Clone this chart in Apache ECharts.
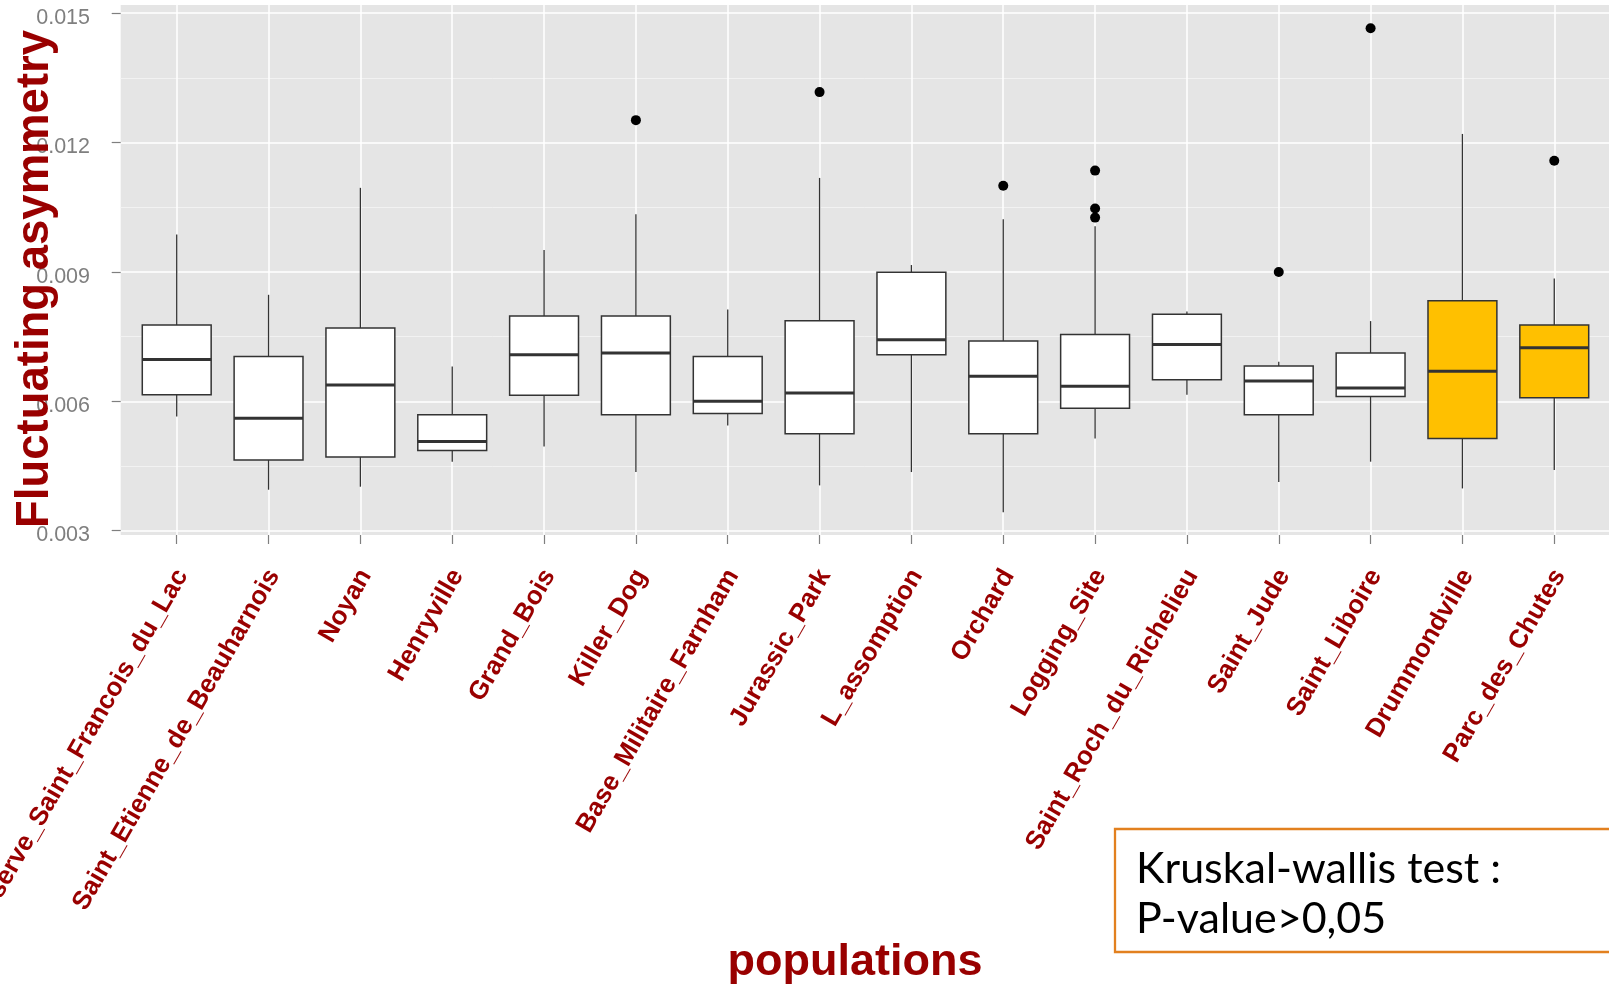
<!DOCTYPE html>
<html>
<head>
<meta charset="utf-8">
<script src="https://cdn.jsdelivr.net/npm/echarts@6/dist/echarts.min.js"></script>
<style>
  html, body { margin: 0; padding: 0; background: #ffffff; }
  #chart { width: 1609px; height: 985px; }
</style>
</head>
<body>
<div id="chart"></div>
<script>
// Populations sampled, in plotting order
const categories = [
  'Reserve_Saint_Francois_du_Lac', 'Saint_Etienne_de_Beauharnois', 'Noyan', 'Henryville',
  'Grand_Bois', 'Killer_Dog', 'Base_Militaire_Farnham', 'Jurassic_Park', 'L_assomption',
  'Orchard', 'Logging_Site', 'Saint_Roch_du_Richelieu', 'Saint_Jude', 'Saint_Liboire',
  'Drummondville', 'Parc_des_Chutes'
];

// Box-and-whisker summaries of fluctuating asymmetry per population
const whiskerLow  = [0.00565, 0.00395, 0.00402, 0.00460, 0.00495, 0.00436, 0.00544, 0.00405, 0.00436, 0.00343, 0.00514, 0.00615, 0.00413, 0.00460, 0.00398, 0.00441];
const q1          = [0.00615, 0.00464, 0.00471, 0.00486, 0.00614, 0.00569, 0.00572, 0.00525, 0.00708, 0.00525, 0.00584, 0.00650, 0.00569, 0.00611, 0.00514, 0.00608];
const median      = [0.00697, 0.00561, 0.00638, 0.00507, 0.00708, 0.00712, 0.00600, 0.00619, 0.00743, 0.00658, 0.00635, 0.00732, 0.00647, 0.00631, 0.00670, 0.00724];
const q3          = [0.00777, 0.00704, 0.00770, 0.00569, 0.00798, 0.00798, 0.00704, 0.00787, 0.00899, 0.00740, 0.00755, 0.00802, 0.00682, 0.00712, 0.00833, 0.00777];
const whiskerHigh = [0.00987, 0.00847, 0.01095, 0.00681, 0.00951, 0.01034, 0.00813, 0.01118, 0.00916, 0.01022, 0.01006, 0.00808, 0.00692, 0.00786, 0.01220, 0.00885];

// Points beyond the whiskers: [population, value]
const outliers = [
  ['Killer_Dog', 0.01252],
  ['Jurassic_Park', 0.01317],
  ['Orchard', 0.01100],
  ['Logging_Site', 0.01135],
  ['Logging_Site', 0.01047],
  ['Logging_Site', 0.01026],
  ['Saint_Jude', 0.00900],
  ['Saint_Liboire', 0.01465],
  ['Parc_des_Chutes', 0.01158]
];

// Populations drawn with a coloured box
const highlighted = ['Drummondville', 'Parc_des_Chutes'];

// Axis ticks
const majorTicks = [0.003, 0.006, 0.009, 0.012, 0.015];
const minorTicks = [0.0045, 0.0075, 0.0105, 0.0135];

const yTitle = 'Fluctuating asymmetry';
const xTitle = 'populations';
const noteLines = ['Kruskal-wallis test :', 'P-value>0,05'];

// ---- styling ----
const DARK_RED = '#990000';
const GREY_TEXT = '#7F7F7F';
const EDGE = '#333333';
const HIGHLIGHT_FILL = '#FFC000';
const BOX_WIDTH = 0.75;
const SANS = '"Liberation Sans", Arial, Helvetica, sans-serif';
const NOTE_FONT = '43px Lato, "Noto Sans", sans-serif';

const catIndex = categories.map((_, i) => i);
const boxData = categories.map((_, i) => [i, whiskerLow[i], q1[i], median[i], q3[i], whiskerHigh[i]]);
const outlierData = outliers.map(([name, v]) => [categories.indexOf(name), v]);

function renderBox(params, api) {
  const i = api.value(0);
  const pLo = api.coord([i, api.value(1)]);
  const pQ1 = api.coord([i, api.value(2)]);
  const pMed = api.coord([i, api.value(3)]);
  const pQ3 = api.coord([i, api.value(4)]);
  const pHi = api.coord([i, api.value(5)]);
  const half = api.size([BOX_WIDTH, 0])[0] / 2;
  const x = pMed[0];
  const fill = highlighted.indexOf(categories[i]) >= 0 ? HIGHLIGHT_FILL : '#FFFFFF';
  return {
    type: 'group',
    children: [
      { type: 'line', shape: { x1: x, y1: pHi[1], x2: x, y2: pQ3[1] }, style: { stroke: EDGE, lineWidth: 1.3 } },
      { type: 'line', shape: { x1: x, y1: pQ1[1], x2: x, y2: pLo[1] }, style: { stroke: EDGE, lineWidth: 1.3 } },
      { type: 'rect', shape: { x: x - half, y: pQ3[1], width: 2 * half, height: pQ1[1] - pQ3[1] },
        style: { fill: fill, stroke: EDGE, lineWidth: 1.5 } },
      { type: 'line', shape: { x1: x - half, y1: pMed[1], x2: x + half, y2: pMed[1] },
        style: { stroke: EDGE, lineWidth: 3 } }
    ]
  };
}

const chart = echarts.init(document.getElementById('chart'), null, { renderer: 'canvas' });

const option = {
  animation: false,
  backgroundColor: '#FFFFFF',
  grid: {
    left: 120.7, right: 0, top: 5, bottom: 450,
    show: true, backgroundColor: '#E5E5E5', borderWidth: 0,
    containLabel: false, outerBoundsMode: 'none'
  },
  xAxis: {
    type: 'value',
    min: -0.61,
    max: 15.596,
    axisLine: { show: false, onZero: false },
    axisTick: { show: true, customValues: catIndex, length: 9, lineStyle: { color: GREY_TEXT, width: 1.2 } },
    axisLabel: {
      customValues: catIndex,
      formatter: (v) => categories[Math.round(v)],
      rotate: 60,
      margin: 33.5,
      align: 'right',
      verticalAlign: 'top',
      lineHeight: 12,
      color: DARK_RED,
      fontWeight: 'bold',
      fontSize: 26,
      fontFamily: SANS
    },
    splitLine: { show: true, lineStyle: { color: '#FFFFFF', width: 1.5 } }
  },
  yAxis: [
    {
      type: 'value',
      min: 0.0029,
      max: 0.01519,
      axisLine: { show: false, onZero: false },
      axisTick: { show: true, customValues: majorTicks, length: 9, lineStyle: { color: GREY_TEXT, width: 1.2 } },
      axisLabel: {
        customValues: majorTicks,
        formatter: (v) => v.toFixed(3),
        margin: 30.7,
        verticalAlign: 'top',
        lineHeight: 9.5,
        color: GREY_TEXT,
        fontSize: 21.5,
        fontFamily: SANS
      },
      splitLine: { show: true, lineStyle: { color: '#FFFFFF', width: 1.5 } }
    },
    {
      type: 'value',
      min: 0.0029,
      max: 0.01519,
      position: 'left',
      axisLine: { show: false, onZero: false },
      axisTick: { show: false, customValues: minorTicks },
      axisLabel: { show: false },
      splitLine: { show: true, lineStyle: { color: '#F2F2F2', width: 1 } }
    }
  ],
  series: [
    {
      type: 'custom',
      renderItem: renderBox,
      data: boxData,
      encode: { x: 0, y: [1, 2, 3, 4, 5] },
      z: 3
    },
    {
      type: 'scatter',
      data: outlierData,
      symbol: 'circle',
      symbolSize: 10,
      itemStyle: { color: '#000000', opacity: 1 },
      z: 4
    }
  ],
  graphic: [
    {
      type: 'text', x: 35, y: 279, rotation: Math.PI / 2, z: 100,
      style: { text: yTitle, fill: DARK_RED, font: 'bold 45.5px ' + SANS, align: 'center', verticalAlign: 'middle' }
    },
    {
      type: 'text', x: 855, y: 963, z: 100,
      style: { text: xTitle, fill: DARK_RED, font: 'bold 45px ' + SANS, align: 'center', verticalAlign: 'middle' }
    },
    {
      type: 'rect', z: 100,
      shape: { x: 1115, y: 829, width: 600, height: 123 },
      style: { fill: '#FFFFFF', stroke: '#E2801F', lineWidth: 2.3 }
    },
    {
      type: 'text', x: 1136, y: 869, z: 101,
      style: { text: noteLines[0], fill: '#000000', font: NOTE_FONT, align: 'left', verticalAlign: 'middle' }
    },
    {
      type: 'text', x: 1136, y: 919, z: 101,
      style: { text: noteLines[1], fill: '#000000', font: NOTE_FONT, align: 'left', verticalAlign: 'middle' }
    }
  ]
};

chart.setOption(option);
</script>
</body>
</html>
